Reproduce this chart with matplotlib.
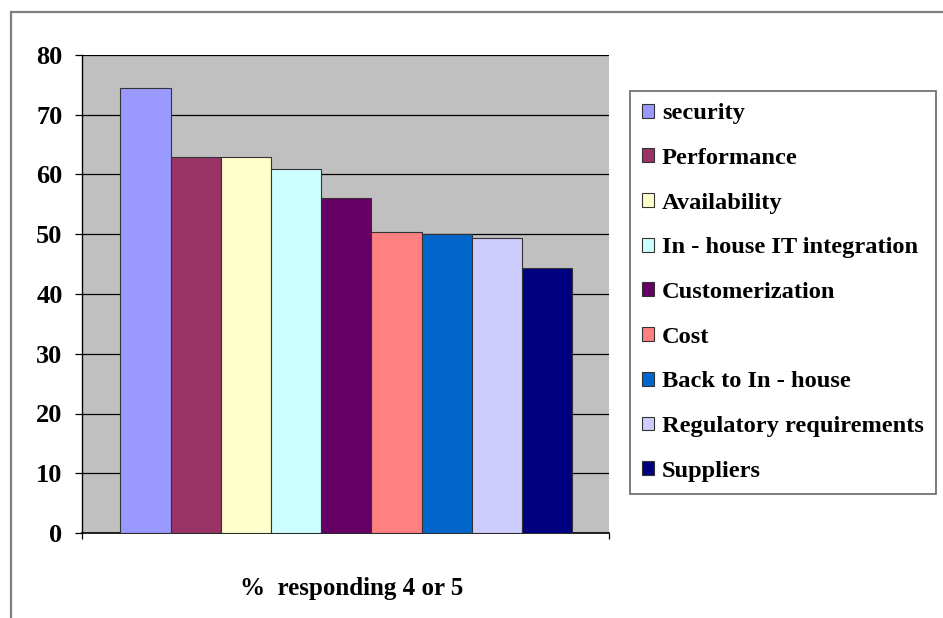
import matplotlib
matplotlib.use("Agg")
import matplotlib.pyplot as plt
import numpy as np
from matplotlib.patches import Rectangle

categories = ["security", "Performance", "Availability", "In - house IT integration",
              "Customerization", "Cost", "Back to In - house", "Regulatory requirements",
              "Suppliers"]
values = [74.5, 63.0, 63.0, 61.0, 56.0, 50.4, 50.0, 49.3, 44.4]
colors = ["#9999FF", "#993366", "#FFFFCC", "#CCFFFF", "#660066", "#FF8080",
          "#0066CC", "#CCCCFF", "#000080"]
yticks = [0, 10, 20, 30, 40, 50, 60, 70, 80]
xlabel = "%  responding 4 or 5"

plt.rcParams['font.family'] = ['Liberation Serif', 'DejaVu Serif']
plt.rcParams['font.weight'] = 'bold'

W, H = 943, 618
fig = plt.figure(figsize=(W / 100, H / 100), dpi=100)
fig.patch.set_facecolor("white")

# outer frame (cut off at right/bottom)
fig.patches.append(Rectangle((11 / W, -0.05), 1.0, 1 - 12 / H + 0.05,
                             transform=fig.transFigure, fill=False,
                             edgecolor="#7f7f7f", linewidth=1.6))

ax = fig.add_axes([82 / W, 1 - 533 / H, (609 - 82) / W, (533 - 55) / H])
ax.set_facecolor("#C0C0C0")
x = np.arange(len(values))
bars = ax.bar(x, values, width=1.0, color=colors, edgecolor="#333333",
              linewidth=0.8, zorder=3, label=None)
ax.set_xlim(-1.266, 9.234)
ax.set_ylim(0, 80)
ax.set_yticks(yticks)
ax.set_yticklabels([str(t) for t in yticks], fontsize=19, fontweight='bold')
ax.yaxis.grid(True, color="#000000", linewidth=0.9, zorder=1)
ax.set_axisbelow(True)
ax.tick_params(axis='y', direction='out', length=5, width=0.9, pad=9, color="#000000")
ax.set_xticks([-1.266, 9.234])
ax.set_xticklabels(["", ""])
ax.tick_params(axis='x', direction='out', length=4, width=0.9)
for s in ["top", "right"]:
    ax.spines[s].set_visible(False)
ax.spines["left"].set_color("#000000")
ax.spines["bottom"].set_color("#000000")
ax.spines["left"].set_linewidth(1.0)
ax.spines["bottom"].set_linewidth(1.2)

fig.text(352 / W, 1 - 589 / H, xlabel, ha="center", va="center",
         fontsize=18, fontweight="bold")

handles = [Rectangle((0, 0), 1, 1, facecolor=c, edgecolor="#333333", linewidth=0.8)
           for c in colors]
leg = fig.legend(handles, categories, loc="upper left",
                 bbox_to_anchor=(630 / W, 1 - 91 / H), borderaxespad=0,
                 prop={"family": ["Liberation Serif"], "weight": "bold", "size": 17.6},
                 handlelength=0.5, handleheight=0.5, handletextpad=0.3,
                 labelspacing=0.97, borderpad=0.5, fancybox=False,
                 frameon=True, edgecolor="#666666", framealpha=1)
leg.get_frame().set_linewidth(1.2)

fig.savefig("out.png", dpi=100)
